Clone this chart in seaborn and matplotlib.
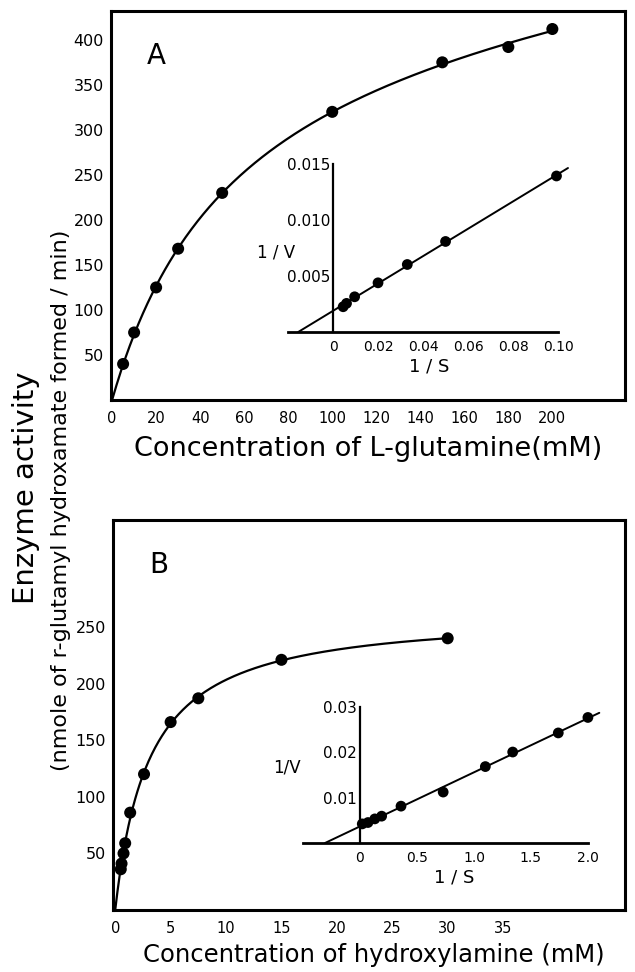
import numpy as np
import pandas as pd
import matplotlib
matplotlib.use("Agg")
import matplotlib.pyplot as plt
import seaborn as sns

sns.set_theme(style="white")
plt.rcParams['font.family'] = ['DejaVu Sans']
for key in ['text.color', 'axes.labelcolor', 'xtick.color', 'ytick.color']:
    plt.rcParams[key] = 'black'

# panel A: L-glutamine
glu_conc = [5, 10, 20, 30, 50, 100, 150, 180, 200]
glu_act = [40, 75, 125, 168, 230, 320, 375, 392, 412]
glu_inv_s = [0.0045, 0.006, 0.0096, 0.020, 0.033, 0.050, 0.0993]
glu_inv_v = [0.00226, 0.00256, 0.00315, 0.0044, 0.00604, 0.0081, 0.01396]

# panel B: hydroxylamine
hyd_conc = [0.5, 0.57, 0.75, 0.9, 1.35, 2.6, 5, 7.5, 15, 30]
hyd_act = [36, 41, 50, 59, 86, 120, 166, 187, 221, 240]
hyd_inv_s = [0.02, 0.07, 0.13, 0.19, 0.36, 0.73, 1.10, 1.34, 1.74, 2.0]
hyd_inv_v = [0.0042, 0.0045, 0.0053, 0.0059, 0.0081, 0.0112, 0.0168, 0.0200, 0.0242, 0.0276]

glu_xticks = list(range(0, 201, 20))
glu_yticks = list(range(50, 401, 50))
hyd_xticks = list(range(0, 36, 5))
hyd_yticks = list(range(50, 251, 50))


def smooth_fit(s, v):
    # saturation curve plus a small linear term, least squares over K
    s = np.asarray(s, float)
    v = np.asarray(v, float)
    best = None
    for k in np.geomspace(0.05, 500, 3000):
        X = np.column_stack([s / (k + s), s])
        coef = np.linalg.lstsq(X, v, rcond=None)[0]
        err = np.sum((X @ coef - v) ** 2)
        if best is None or err < best[0]:
            best = (err, k, coef)
    _, k, coef = best
    xs = np.linspace(0, s.max(), 300)
    return xs, coef[0] * xs / (k + xs) + coef[1] * xs


def main_panel(ax, conc, act, xlim, ylim, xticks, yticks, letter, letter_y, xlabel, xlabel_size):
    xs, ys = smooth_fit(conc, act)
    sns.lineplot(x=xs, y=ys, ax=ax, color='black', lw=1.6)
    sns.scatterplot(x=conc, y=act, ax=ax, color='black', s=75, edgecolor='none', zorder=3)
    ax.set_xlim(*xlim)
    ax.set_ylim(*ylim)
    ax.set_xticks(xticks)
    ax.set_yticks(yticks)
    ax.tick_params(axis='x', direction='in', length=7, width=1.2, labelsize=10.5, pad=8)
    ax.tick_params(axis='y', direction='out', length=3, width=1.2, labelsize=11.5, pad=2)
    for sp in ax.spines.values():
        sp.set_linewidth(2.2)
        sp.set_color('black')
    ax.set_xlabel(xlabel, fontsize=xlabel_size, labelpad=7)
    ax.text(0.07, letter_y, letter, transform=ax.transAxes, fontsize=20, va='center')


def inset(ax, inv_s, inv_v, xlim, ylim, xticks, xlabels, yticks, ylabels, xend):
    ax.set_facecolor('none')
    slope, icpt = np.polyfit(inv_s, inv_v, 1)
    x0 = -icpt / slope
    line = pd.DataFrame({'x': [x0, xend], 'y': [0, icpt + slope * xend]})
    sns.lineplot(data=line, x='x', y='y', ax=ax, color='black', lw=1.4)
    sns.scatterplot(x=inv_s, y=inv_v, ax=ax, color='black', s=60, edgecolor='none', zorder=3)
    ax.set_xlim(*xlim)
    ax.set_ylim(*ylim)
    ax.spines['top'].set_visible(False)
    ax.spines['right'].set_visible(False)
    ax.spines['left'].set_position(('data', 0))
    ax.spines['left'].set_bounds(0, yticks[-1])
    ax.spines['bottom'].set_bounds(xlim[0], xticks[-1])
    ax.spines['left'].set_linewidth(1.6)
    ax.spines['bottom'].set_linewidth(2.0)
    ax.spines['left'].set_color('black')
    ax.spines['bottom'].set_color('black')
    ax.set_xticks(xticks)
    ax.set_xticklabels(xlabels)
    ax.set_xticks([xlim[0]], minor=True)
    ax.set_yticks(yticks)
    ax.set_yticklabels(ylabels)
    ax.tick_params(axis='x', which='both', direction='in', length=6, width=1.2, labelsize=10, pad=6)
    ax.tick_params(axis='y', direction='in', length=5, width=1.2, labelsize=11, pad=2)
    ax.set_xlabel('1 / S', fontsize=13, labelpad=2)
    ax.set_ylabel('')


fig = plt.figure(figsize=(6.35, 9.72), dpi=100)

axA = fig.add_axes([111 / 635, 1 - 400 / 972, 514 / 635, 389 / 972])
main_panel(axA, glu_conc, glu_act, (-0.5, 233), (0, 432), glu_xticks, glu_yticks, 'A', 0.885,
           'Concentration of L-glutamine(mM)', 19.5)

axB = fig.add_axes([113 / 635, 1 - 910 / 972, 512 / 635, 390 / 972])
main_panel(axB, hyd_conc, hyd_act, (-0.2, 46), (0, 344.5), hyd_xticks, hyd_yticks, 'B', 0.885,
           'Concentration of hydroxylamine (mM)', 17.5)
axB.xaxis.set_label_coords(0.51, -0.085)

inA = fig.add_axes([288 / 635, 1 - 332 / 972, 282 / 635, 171 / 972])
inset(inA, glu_inv_s, glu_inv_v, (-0.02, 0.1053), (0, 0.0153),
      [0, 0.02, 0.04, 0.06, 0.08, 0.10], ['0', '0.02', '0.04', '0.06', '0.08', '0.10'],
      [0.005, 0.010, 0.015], ['0.005', '0.010', '0.015'], 0.1044)
fig.text(276 / 635, 1 - 252 / 972, '1 / V', fontsize=12, ha='center', va='center')

inB = fig.add_axes([303 / 635, 1 - 843 / 972, 302 / 635, 141 / 972])
inset(inB, hyd_inv_s, hyd_inv_v, (-0.5, 2.15), (0, 0.031),
      [0, 0.5, 1.0, 1.5, 2.0], ['0', '0.5', '1.0', '1.5', '2.0'],
      [0.01, 0.02, 0.03], ['0.01', '0.02', '0.03'], 2.1)
fig.text(287 / 635, 1 - 767 / 972, '1/V', fontsize=12, ha='center', va='center')

fig.text(26 / 635, 1 - 488 / 972, 'Enzyme activity', rotation=90, fontsize=21,
         ha='center', va='center')
fig.text(61 / 635, 1 - 500 / 972, '(nmole of r-glutamyl hydroxamate formed / min)',
         rotation=90, fontsize=16, ha='center', va='center')

fig.savefig('out.png', dpi=100)
